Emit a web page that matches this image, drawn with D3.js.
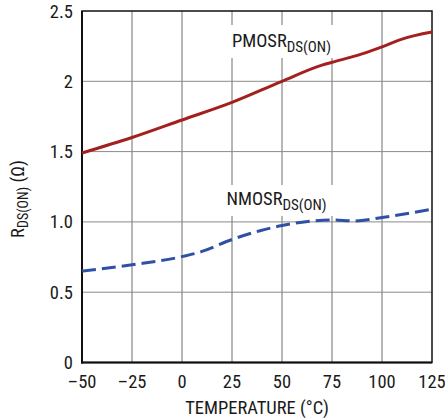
<!DOCTYPE html>
<html>
<head>
<meta charset="utf-8">
<script src="https://cdn.jsdelivr.net/npm/d3@7"></script>
<style>
  body { margin: 0; background: #fff; }
  text { font-family: "Liberation Sans Narrow", "Arial Narrow", "Roboto Condensed", sans-serif; fill: #1a1a1a; }
</style>
</head>
<body>
<svg id="chart" width="445" height="420"></svg>
<script>
// temperature (°C) vs RDS(ON) (ohm)
var pmosTemp = [-50, -25, 0, 25, 50, 70, 75, 90, 100, 110, 125];
var pmosRds  = [1.49, 1.60, 1.725, 1.85, 2.0, 2.115, 2.135, 2.195, 2.245, 2.30, 2.35];

var nmosTemp = [-50, -25, 0, 10, 25, 39, 50, 61, 75, 86, 100, 125];
var nmosRds  = [0.65, 0.695, 0.753, 0.79, 0.875, 0.937, 0.974, 1.0, 1.014, 1.007, 1.031, 1.09];

var xTicks = [-50, -25, 0, 25, 50, 75, 100, 125];
var yTicks = [0, 0.5, 1, 1.5, 2, 2.5];
var yTickLabels = ["0", "0.5", "1.0", "1.5", "2", "2.5"];

var svg = d3.select("#chart");
var L = 82, R = 432, T = 11, B = 362.5;
var fs = 18.5;

var x = d3.scaleLinear().domain([-50, 125]).range([L, R]);
var y = d3.scaleLinear().domain([0, 2.5]).range([B, T]);

// grid
var grid = svg.append("g");
grid.selectAll("line.vx").data(xTicks.slice(1, -1)).enter().append("line")
  .attr("x1", d => x(d)).attr("x2", d => x(d))
  .attr("y1", T).attr("y2", B)
  .attr("stroke", "#6e6e6e").attr("stroke-width", 1);
grid.selectAll("line.hy").data(yTicks.slice(1, -1)).enter().append("line")
  .attr("x1", L).attr("x2", R)
  .attr("y1", d => y(d)).attr("y2", d => y(d))
  .attr("stroke", "#8a8a8a").attr("stroke-width", 1);

// white boxes behind curve labels
svg.append("rect").attr("x", 228).attr("y", 25).attr("width", 120).attr("height", 33).attr("fill", "#fff");
svg.append("rect").attr("x", 222).attr("y", 185).attr("width", 120).attr("height", 31).attr("fill", "#fff");

// frame
svg.append("rect").attr("x", L).attr("y", T).attr("width", R - L).attr("height", B - T)
  .attr("fill", "none").attr("stroke", "#111").attr("stroke-width", 1.5);
svg.append("line").attr("x1", L).attr("x2", L).attr("y1", T).attr("y2", B + 1)
  .attr("stroke", "#111").attr("stroke-width", 2);
svg.append("line").attr("x1", L - 1).attr("x2", R).attr("y1", B).attr("y2", B)
  .attr("stroke", "#111").attr("stroke-width", 2);

// curves
var line = d3.line().x(d => x(d[0])).y(d => y(d[1])).curve(d3.curveMonotoneX);

svg.append("path")
  .datum(d3.zip(pmosTemp, pmosRds))
  .attr("d", line)
  .attr("fill", "none").attr("stroke", "#a3201f").attr("stroke-width", 3);

svg.append("path")
  .datum(d3.zip(nmosTemp, nmosRds))
  .attr("d", line)
  .attr("fill", "none").attr("stroke", "#3050a5").attr("stroke-width", 3)
  .attr("stroke-dasharray", "14,6");

// tick labels
svg.selectAll("text.xt").data(xTicks).enter().append("text")
  .attr("x", d => x(d)).attr("y", 387.5)
  .attr("text-anchor", "middle").attr("font-size", fs)
  .text(d => d < 0 ? "\u2013" + Math.abs(d) : d);

svg.selectAll("text.yt").data(yTicks).enter().append("text")
  .attr("x", 73).attr("y", d => y(d) + 6.5)
  .attr("text-anchor", "end").attr("font-size", fs)
  .text((d, i) => yTickLabels[i]);

// axis titles
svg.append("text").attr("x", 257).attr("y", 413.5)
  .attr("text-anchor", "middle").attr("font-size", fs)
  .text("TEMPERATURE (\u00b0C)");

var yt = svg.append("text")
  .attr("transform", "translate(24,199) rotate(-90)")
  .attr("text-anchor", "middle").attr("font-size", fs);
yt.append("tspan").text("R");
yt.append("tspan").attr("font-size", 14).attr("dy", 4).text("DS(ON)");
yt.append("tspan").attr("dy", -4).text(" (\u03a9)");

// curve labels
function subLabel(px, py, main) {
  var t = svg.append("text").attr("x", px).attr("y", py).attr("font-size", fs);
  t.append("tspan").text(main);
  t.append("tspan").attr("font-size", 15).attr("dy", 5).text("DS(ON)");
}
subLabel(232, 47, "PMOSR");
subLabel(226.5, 205, "NMOSR");
</script>
</body>
</html>
